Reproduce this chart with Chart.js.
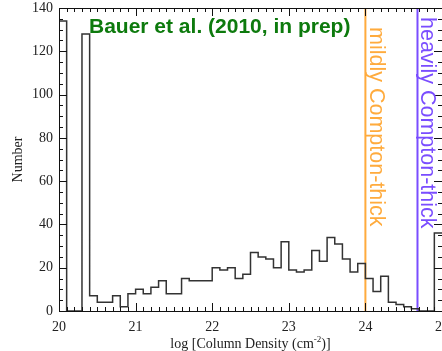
<!DOCTYPE html>
<html>
<head>
<meta charset="utf-8">
<script src="https://cdn.jsdelivr.net/npm/chart.js@4.4.0/dist/chart.umd.min.js"></script>
<style>
html, body { margin: 0; padding: 0; background: #fff; overflow: hidden; }
</style>
</head>
<body>
<canvas id="nhChart" width="470" height="351"></canvas>
<script>
// histogram of log N_H, bins of 0.1 dex from 20.0 to 25.0
var binStart = 20.0
var binWidth = 0.1
var counts = [
  134, 0, 0, 128, 7, 4, 4, 7, 2, 8,
  10, 8, 11, 14, 8, 8, 15, 14, 14, 14,
  20, 19, 20, 15, 17, 27, 25, 24, 20, 32,
  19, 18, 19, 28, 23, 34, 31, 24, 18, 22,
  15, 9, 16, 4, 3, 2, 1, 0, 0, 36
]
var xRange = [20, 25]
var yRange = [0, 140]
var xStep = 1, xMinor = 0.1
var yStep = 20, yMinor = 5
var mildlyCT = 24.0
var heavilyCT = 24.68
var titleText = 'Bauer et al. (2010, in prep)'
var xLabel = 'log [Column Density (cm'
var xLabelSup = '-2'
var xLabelEnd = ')]'
var yLabel = 'Number'

var orange = '#ffab3d'
var purple = '#7a4dff'
var green = '#0d7a0d'
var serif = 'Liberation Serif'

function histPoints() {
  var pts = counts.map(function (c, i) {
    return { x: +(binStart + i * binWidth).toFixed(2), y: c }
  })
  pts.push({ x: +(binStart + counts.length * binWidth).toFixed(2), y: counts[counts.length - 1] })
  return pts
}

function vline(x) {
  return [{ x: x, y: yRange[0] }, { x: x, y: yRange[1] }]
}

var decorations = {
  id: 'decorations',
  afterDatasetsDraw: function (chart) {
    var ctx = chart.ctx
    var a = chart.chartArea
    var xs = chart.scales.x, ys = chart.scales.y
    ctx.save()
    ctx.strokeStyle = '#111'
    ctx.lineWidth = 1
    ctx.strokeRect(a.left + 0.5, a.top + 0.5, a.right - a.left, a.bottom - a.top)
    ctx.beginPath()
    // inward ticks, IDL style
    var n = Math.round((xRange[1] - xRange[0]) / xMinor)
    for (var i = 0; i <= n; i++) {
      var v = xRange[0] + i * xMinor
      var px = Math.round(xs.getPixelForValue(v)) + 0.5
      var len = (i % 10 === 0) ? 8 : 4
      ctx.moveTo(px, a.bottom); ctx.lineTo(px, a.bottom - len)
      ctx.moveTo(px, a.top); ctx.lineTo(px, a.top + len)
    }
    var m = Math.round((yRange[1] - yRange[0]) / yMinor)
    for (var j = 0; j <= m; j++) {
      var w = yRange[0] + j * yMinor
      var py = Math.round(ys.getPixelForValue(w)) + 0.5
      var l2 = (w % yStep === 0) ? 8 : 4
      ctx.moveTo(a.left, py); ctx.lineTo(a.left + l2, py)
      ctx.moveTo(a.right, py); ctx.lineTo(a.right - l2, py)
    }
    ctx.stroke()

    // title
    ctx.fillStyle = green
    ctx.font = 'bold 21px "Liberation Sans"'
    ctx.textAlign = 'left'
    ctx.textBaseline = 'alphabetic'
    ctx.fillText(titleText, a.left + 30, a.top + 25)

    // vertical labels next to the threshold lines
    ctx.font = '21.5px "Liberation Sans"'
    ctx.fillStyle = orange
    ctx.save()
    ctx.translate(xs.getPixelForValue(mildlyCT) + 4.5, a.top + 19)
    ctx.rotate(Math.PI / 2)
    ctx.fillText('mildly Compton-thick', 0, 0)
    ctx.restore()
    ctx.fillStyle = purple
    ctx.save()
    ctx.translate(xs.getPixelForValue(heavilyCT) + 3.5, a.top + 9)
    ctx.rotate(Math.PI / 2)
    ctx.fillText('heavily Compton-thick', 0, 0)
    ctx.restore()

    // axis titles
    ctx.fillStyle = '#222'
    ctx.font = '14px "' + serif + '"'
    var w1 = ctx.measureText(xLabel).width
    ctx.font = '9px "' + serif + '"'
    var w2 = ctx.measureText(xLabelSup).width
    ctx.font = '14px "' + serif + '"'
    var w3 = ctx.measureText(xLabelEnd).width
    var cx = (a.left + a.right) / 2
    var x0 = cx - (w1 + w2 + w3) / 2
    var by = a.bottom + 37
    ctx.fillText(xLabel, x0, by)
    ctx.font = '9px "' + serif + '"'
    ctx.fillText(xLabelSup, x0 + w1, by - 6)
    ctx.font = '14px "' + serif + '"'
    ctx.fillText(xLabelEnd, x0 + w1 + w2, by)

    ctx.save()
    ctx.translate(22, (a.top + a.bottom) / 2)
    ctx.rotate(-Math.PI / 2)
    ctx.textAlign = 'center'
    ctx.fillText(yLabel, 0, 0)
    ctx.restore()
    ctx.restore()
  }
}

var context = document.getElementById('nhChart').getContext('2d')
var nhChart = new Chart(context, {
  type: 'line',
  data: {
    datasets: [{
      data: histPoints(),
      stepped: true,
      borderColor: '#333',
      borderWidth: 1.5,
      pointRadius: 0,
      fill: false
    }, {
      data: vline(mildlyCT),
      borderColor: orange,
      borderWidth: 2,
      pointRadius: 0
    }, {
      data: vline(heavilyCT),
      borderColor: purple,
      borderWidth: 2,
      pointRadius: 0
    }]
  },
  options: {
    responsive: false,
    animation: false,
    layout: { padding: { top: 8, right: 28, left: 0, bottom: 0 } },
    plugins: { legend: { display: false }, tooltip: { enabled: false } },
    scales: {
      x: {
        type: 'linear',
        min: xRange[0],
        max: xRange[1],
        grid: { display: false, drawTicks: false },
        border: { display: false },
        ticks: {
          stepSize: xStep,
          maxRotation: 0,
          padding: 8,
          color: '#222',
          font: { family: serif, size: 14 }
        },
        afterFit: function (s) { s.height = 40; s.paddingLeft = 0; s.paddingRight = 0 }
      },
      y: {
        min: yRange[0],
        max: yRange[1],
        grid: { display: false, drawTicks: false },
        border: { display: false },
        ticks: {
          stepSize: yStep,
          padding: 6,
          color: '#222',
          font: { family: serif, size: 14 }
        },
        afterFit: function (s) { s.width = 59; s.paddingTop = 0; s.paddingBottom = 0 }
      }
    }
  },
  plugins: [decorations]
})
</script>
</body>
</html>
